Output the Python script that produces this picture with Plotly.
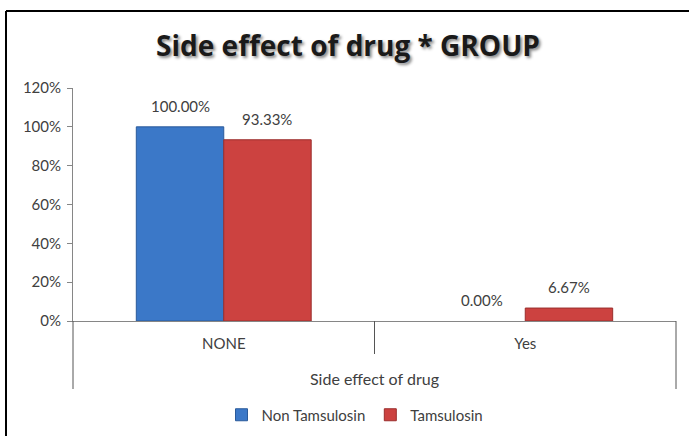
import plotly.graph_objects as go

# Data
categories = ["NONE", "Yes"]
series_names = ["Non Tamsulosin", "Tamsulosin"]
non_tamsulosin = [1.0, 0.0]
tamsulosin = [0.9333, 0.0667]
y_ticks = [0, 0.2, 0.4, 0.6, 0.8, 1.0, 1.2]

W, H = 689, 436
L, R, T, B = 73, 13, 88, 115
pw, ph = W - L - R, H - T - B
BARGAP = 0.42


def px_x(x):
    return (x - L) / pw


def px_y(y):
    return (H - B - y) / ph


FONT = "Lato, 'Open Sans', sans-serif"
TXT = "#404040"
series = [
    (series_names[0], non_tamsulosin, "#3b78c8", "#2a5a9a"),
    (series_names[1], tamsulosin, "#cc4240", "#9a2e2c"),
]

fig = go.Figure()
for name, vals, fill, edge in series:
    fig.add_trace(go.Bar(
        name=name, x=categories, y=vals,
        marker=dict(color=fill,
                    line=dict(color=edge, width=[1 if v > 0 else 0 for v in vals])),
    ))

# value labels above each bar, offset to the centre of its group slot
bar_px = (pw / len(categories)) * (1 - BARGAP) / len(series)
annotations = []
for k, (name, vals, _, _) in enumerate(series):
    shift = (k - (len(series) - 1) / 2) * bar_px
    for cat, v in zip(categories, vals):
        annotations.append(dict(
            x=cat, y=v, xref="x", yref="y", text=f"{v*100:.2f}%",
            showarrow=False, xshift=shift, yanchor="bottom", yshift=10,
            font=dict(size=15, color=TXT, family=FONT)))

annotations.append(dict(text="Side effect of drug", xref="paper", yref="paper",
                        x=0.5, y=px_y(378), yanchor="middle", showarrow=False,
                        font=dict(size=16, color=TXT, family=FONT)))

shapes = []
# outer chart frame
shapes.append(dict(type="line", xref="paper", yref="paper",
                   x0=px_x(6), x1=px_x(700), y0=px_y(11), y1=px_y(11),
                   line=dict(color="#000000", width=2)))
shapes.append(dict(type="line", xref="paper", yref="paper",
                   x0=px_x(6), x1=px_x(6), y0=px_y(11), y1=px_y(450),
                   line=dict(color="#000000", width=2)))
# category group box lines
for xp, yb in [(0, 389), (1, 389), (0.5, 354)]:
    shapes.append(dict(type="line", xref="paper", yref="paper",
                       x0=xp, x1=xp, y0=0, y1=px_y(yb),
                       line=dict(color="#555555", width=1)))

fig.update_layout(
    width=W, height=H,
    margin=dict(l=L, r=R, t=T, b=B, pad=0, autoexpand=False),
    paper_bgcolor="white", plot_bgcolor="white",
    barmode="group", bargap=BARGAP, bargroupgap=0,
    font=dict(family=FONT, color=TXT, size=15),
    title=dict(text="<b>Side effect of drug * GROUP</b>",
               x=px_x(348), xref="paper", xanchor="center",
               y=1 - 46 / H, yanchor="middle",
               font=dict(size=28, color="#1a1a1a", family="'Open Sans', Lato, sans-serif",
                         shadow="2px 2px 3px #8a8a8a")),
    xaxis=dict(showline=True, linecolor="#868686", linewidth=1, automargin=False,
               ticks="", showgrid=False, ticklabelstandoff=9,
               tickfont=dict(size=15, color=TXT)),
    yaxis=dict(range=[0, 1.2], tickvals=y_ticks, tickformat=".0%", automargin=False,
               showline=True, linecolor="#868686", linewidth=1,
               ticks="outside", ticklen=5, tickcolor="#868686",
               showgrid=False, zeroline=False, ticklabelstandoff=3,
               tickfont=dict(size=15, color=TXT)),
    legend=dict(orientation="h", x=px_x(355), xanchor="center",
                y=px_y(415), yanchor="middle",
                font=dict(size=15, color=TXT), itemwidth=30,
                traceorder="normal"),
    shapes=shapes,
    annotations=annotations,
)

fig.write_html("out.html")
